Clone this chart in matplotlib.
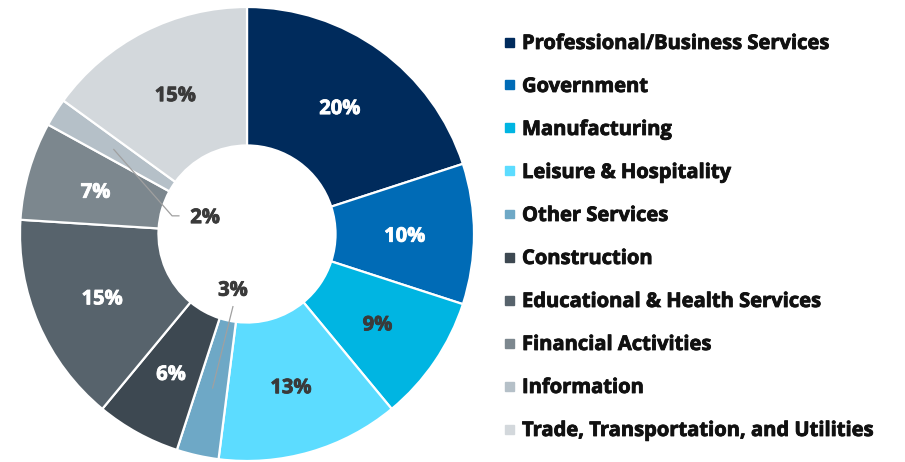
import matplotlib
matplotlib.use("Agg")
import numpy as np
import matplotlib.pyplot as plt
import matplotlib.patheffects as pe

# data
sectors = ["Professional/Business Services", "Government", "Manufacturing",
           "Leisure & Hospitality", "Other Services", "Construction",
           "Educational & Health Services", "Financial Activities",
           "Information", "Trade, Transportation, and Utilities"]
shares = [20, 10, 9, 13, 3, 6, 15, 7, 2, 15]
colors = ["#002B5C", "#006BB6", "#00B5E2", "#5CDCFF", "#6EA8C6",
          "#3D4851", "#57636C", "#7C878E", "#B5C0C8", "#D3D8DC"]
label_colors = ["white", "white", "#3A3A3A", "#3A3A3A", "#3A3A3A",
                "white", "white", "white", "#3A3A3A", "#3A3A3A"]

plt.rcParams["font.family"] = ["Open Sans", "DejaVu Sans"]
plt.rcParams["font.weight"] = "bold"

fig = plt.figure(figsize=(9.05, 4.62), dpi=100)

# pie axes, centre at (247, 234) px, radius ~227 px
cx, cy, R = 247, 462 - 234, 227
lim = 1.02
half = lim * R
ax = fig.add_axes([(cx - half) / 905, (cy - half) / 462, 2 * half / 905, 2 * half / 462])

inner = 0.39
wedges, _ = ax.pie(shares, colors=colors, startangle=90, counterclock=False,
                   radius=1, wedgeprops=dict(width=1 - inner, edgecolor="white", linewidth=1.6))
ax.set_xlim(-lim, lim)
ax.set_ylim(-lim, lim)
ax.set_aspect("equal")
ax.axis("off")


def heavy(c):
    # a thin outline of the same colour makes the bold face a bit heavier
    return [pe.withStroke(linewidth=0.6, foreground=c)]


mid_r = (1 + inner) / 2
for w, val, lc in zip(wedges, shares, label_colors):
    ang = np.deg2rad((w.theta1 + w.theta2) / 2)
    x, y = mid_r * np.cos(ang), mid_r * np.sin(ang)
    if val >= 5:
        tx, ty = x, y - 0.012
    elif val == 3:
        ax.plot([x, -0.062], [y, -0.32], color="#A0A0A0", lw=0.9)
        tx, ty = -0.062, -0.25
    else:
        ax.plot([x, -0.33, -0.30], [y, 0.08, 0.08], color="#A0A0A0", lw=0.9)
        tx, ty = -0.185, 0.07
    ax.text(tx, ty, f"{val}%", ha="center", va="center", color=lc,
            fontsize=14.5, fontweight="bold", path_effects=heavy(lc))

# legend drawn by hand
for i, (name, c) in enumerate(zip(sectors, colors)):
    ypx = 42 + i * 43
    yf = 1 - ypx / 462
    fig.patches.append(plt.Rectangle((505 / 905, yf - 4.5 / 462), 9 / 905, 9 / 462,
                                     transform=fig.transFigure, color=c))
    fig.text(522 / 905, yf - 2 / 462, name, ha="left", va="center", fontsize=14.5,
             fontweight="bold", color="#111111", path_effects=heavy("#111111"))

fig.savefig("out.png", dpi=100)
